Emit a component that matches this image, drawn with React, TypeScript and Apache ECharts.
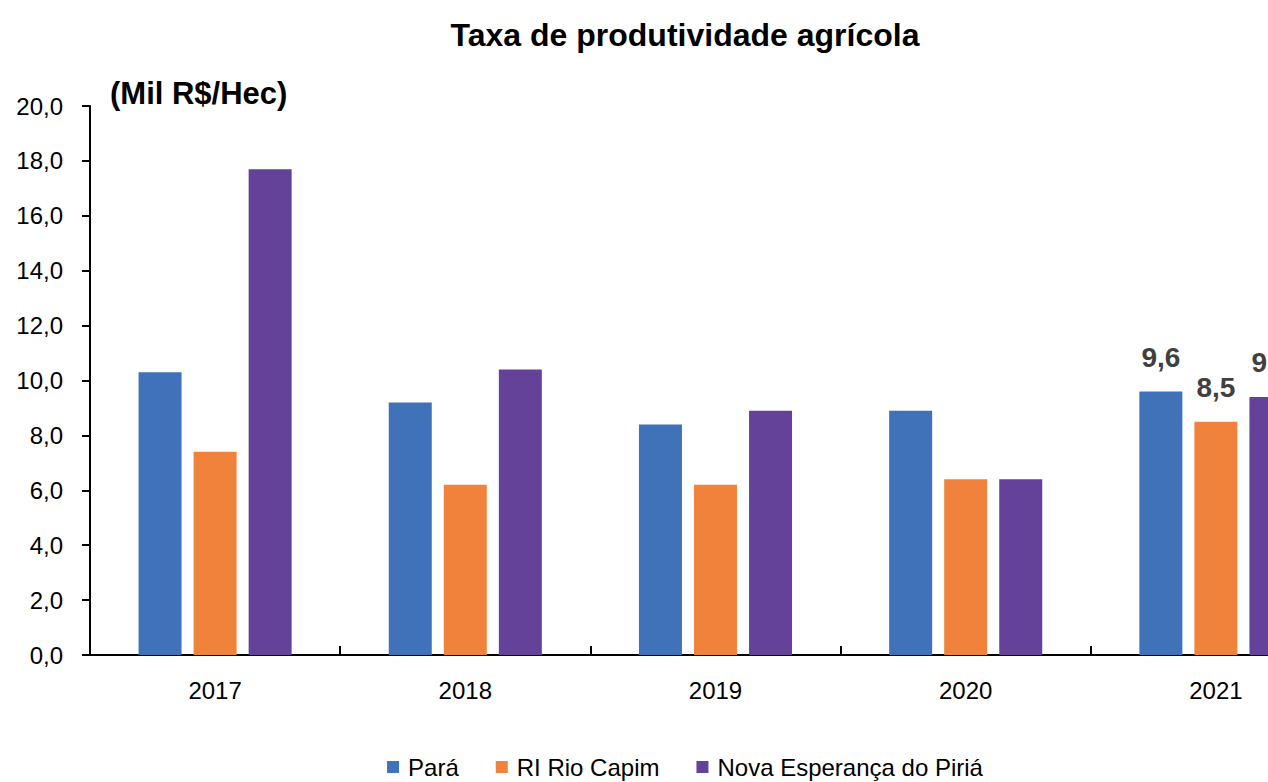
import React, { useEffect, useRef } from "react";
import * as echarts from "echarts";

const categories = ["2017", "2018", "2019", "2020", "2021"];
const para = [10.3, 9.2, 8.4, 8.9, 9.6];
const rioCapim = [7.4, 6.2, 6.2, 6.4, 8.5];
const novaEsperanca = [17.7, 10.4, 8.9, 6.4, 9.4];
const seriesNames = ["Pará", "RI Rio Capim", "Nova Esperança do Piriá"];
const yTicks = [0, 2, 4, 6, 8, 10, 12, 14, 16, 18, 20];

const FONT = "'Liberation Sans', Arial, sans-serif";
const fmt = (v: number) => v.toFixed(1).replace(".", ",");

export default function App() {
  const ref = useRef<HTMLDivElement>(null);
  useEffect(() => {
    if (!ref.current) return;
    const chart = echarts.init(ref.current, undefined, { renderer: "svg" });
    const labelFor = (arr: number[]) =>
      arr.map((v, i) => ({
        value: v,
        label: i === arr.length - 1 ? { show: true } : { show: false },
      }));
    const lastLabel = {
      position: "top" as const,
      distance: 20,
      formatter: (p: any) => fmt(p.value),
      fontFamily: FONT,
      fontSize: 28,
      fontWeight: "bold" as const,
      color: "#404040",
    };
    chart.setOption({
      animation: false,
      title: {
        text: "Taxa de produtividade agrícola",
        left: "center",
        top: 14,
        textStyle: { fontFamily: FONT, fontSize: 32, fontWeight: "bold", color: "#000" },
      },
      graphic: [
        {
          type: "text",
          left: 110,
          top: 78,
          style: {
            text: "(Mil R$/Hec)",
            font: `bold 31px ${FONT}`,
            fill: "#000",
          },
        },
      ],
      legend: {
        data: seriesNames,
        left: "center",
        top: 750,
        itemWidth: 12,
        itemHeight: 12,
        itemGap: 37,
        icon: "rect",
        textStyle: { fontFamily: FONT, fontSize: 24, color: "#000", padding: [0, 0, 0, 4] },
      },
      grid: { left: 90, right: 29, top: 106, bottom: 127, containLabel: false },
      xAxis: {
        type: "category",
        data: categories,
        axisLine: { lineStyle: { color: "#000", width: 2 } },
        axisTick: { show: true, inside: true, length: 9, lineStyle: { color: "#000", width: 2 } },
        axisLabel: { fontFamily: FONT, fontSize: 24, color: "#000", margin: 23 },
      },
      yAxis: {
        type: "value",
        min: yTicks[0],
        max: yTicks[yTicks.length - 1],
        interval: 2,
        splitLine: { show: false },
        axisLine: { show: true, lineStyle: { color: "#000", width: 2 } },
        axisTick: { show: true, length: 8, lineStyle: { color: "#000", width: 2 } },
        axisLabel: { fontFamily: FONT, fontSize: 24, color: "#000", margin: 27, formatter: fmt },
      },
      series: [
        {
          name: seriesNames[0],
          type: "bar",
          data: labelFor(para),
          barWidth: 43,
          barGap: "28%",
          itemStyle: { color: "#3F72B8" },
          label: lastLabel,
        },
        {
          name: seriesNames[1],
          type: "bar",
          data: labelFor(rioCapim),
          barWidth: 43,
          barGap: "28%",
          itemStyle: { color: "#F0823C" },
          label: lastLabel,
        },
        {
          name: seriesNames[2],
          type: "bar",
          data: labelFor(novaEsperanca),
          barWidth: 43,
          barGap: "28%",
          itemStyle: { color: "#65429A" },
          label: lastLabel,
        },
      ],
    });
    return () => chart.dispose();
  }, []);
  return (
    <div
      style={{
        position: "fixed",
        left: 0,
        top: 0,
        width: 1268,
        height: 782,
        overflow: "hidden",
        background: "#fff",
      }}
    >
      <div ref={ref} style={{ width: 1370, height: 782 }} />
    </div>
  );
}
